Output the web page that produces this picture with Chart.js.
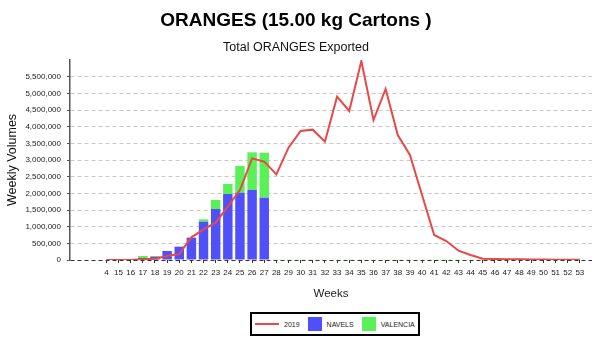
<!DOCTYPE html>
<html>
  <head>
    <meta charset="utf-8" />
    <title>Oranges exported</title>
    <script src="https://cdn.jsdelivr.net/npm/chart.js"></script>
    <style>
      body {
        margin: 0;
        background: white;
      }
      #wrap {
        position: relative;
        width: 600px;
        height: 345px;
      }
      #legend {
        position: absolute;
        left: 250px;
        top: 312px;
        width: 163px;
        height: 20px;
        border: 2px solid black;
        background: white;
        display: flex;
        align-items: center;
        font: 7px "Liberation Sans", Arial, sans-serif;
        color: #222;
        padding-left: 3px;
        box-sizing: content-box;
        white-space: nowrap;
        overflow: hidden;
      }
      #legend span.sw {
        display: inline-block;
        flex-shrink: 0;
        margin-right: 5px;
      }
      #legend span.txt {
        flex-shrink: 0;
        margin-right: 8px;
      }
    </style>

    <script type="text/javascript">
      // weeks along the x axis (blank slots pad the left and right ends)
      var weeks = ["", "", "", "4", "15", "16", "17", "18", "19", "20", "21", "22", "23",
        "24", "25", "26", "27", "28", "29", "30", "31", "32", "33", "34", "35", "36", "37",
        "38", "39", "40", "41", "42", "43", "44", "45", "46", "47", "48", "49", "50", "51",
        "52", "53", ""];

      // 2019 season, cartons per week
      var season2019 = [null, null, null, 0, 0, 0, 20000, 40000, 120000, 180000, 680000,
        920000, 1120000, 1600000, 2100000, 3050000, 2950000, 2570000, 3370000, 3870000,
        3910000, 3550000, 4900000, 4470000, 5970000, 4200000, 5130000, 3750000, 3150000,
        1950000, 750000, 570000, 280000, 150000, 40000, 30000, 25000, 20000, 15000, 15000,
        10000, 10000, 10000, null];

      // this season by variety
      var navels = [null, null, null, 0, 0, 0, 60000, 100000, 270000, 400000, 670000,
        1150000, 1530000, 1980000, 2020000, 2100000, 1870000, 0, 0, 0, 0, 0, 0, 0, 0, 0, 0,
        0, 0, 0, 0, 0, 0, 0, 0, 0, 0, 0, 0, 0, 0, 0, 0, null];
      var valencia = [null, null, null, 0, 0, 0, 60000, 20000, 0, 0, 0, 70000, 270000,
        300000, 800000, 1130000, 1350000, 20000, 20000, 20000, 20000, 20000, 20000, 20000,
        20000, 20000, 20000, 20000, 20000, 20000, 20000, 20000, 20000, 20000, 20000, 20000,
        20000, 20000, 20000, 20000, 20000, 20000, 20000, null];

      var yTop = 6000000;
      var fontFam = "'Liberation Sans', Arial, sans-serif";

      function fmt(v) {
        if (v == yTop) return "";
        return v.toLocaleString("en-US");
      }

      // html legend built from the chart's own legend items
      const htmlLegend = {
        id: "htmlLegend",
        afterUpdate(chart) {
          var box = document.getElementById("legend");
          box.innerHTML = "";
          var items = chart.options.plugins.legend.labels.generateLabels(chart);
          items.forEach(function (it) {
            var sw = document.createElement("span");
            sw.className = "sw";
            var ds = chart.data.datasets[it.datasetIndex];
            if (ds.type == "line") {
              sw.style.width = "24px";
              sw.style.height = "2px";
              sw.style.background = ds.borderColor;
            } else {
              sw.style.width = "14px";
              sw.style.height = "14px";
              sw.style.background = ds.backgroundColor;
            }
            var t = document.createElement("span");
            t.className = "txt";
            t.textContent = it.text;
            box.appendChild(sw);
            box.appendChild(t);
          });
        },
      };

      function start() {
        new Chart(document.getElementById("chart"), {
          type: "bar",
          data: {
            labels: weeks,
            datasets: [
              {
                type: "line",
                label: "2019",
                data: season2019,
                stack: "year",
                borderColor: "#e84848",
                backgroundColor: "#e84848",
                borderWidth: 2,
                pointRadius: 0,
                tension: 0,
                order: 0,
              },
              {
                label: "NAVELS",
                data: navels,
                stack: "fruit",
                backgroundColor: "#5050fa",
                barPercentage: 0.78,
                categoryPercentage: 1,
                order: 1,
              },
              {
                label: "VALENCIA",
                data: valencia,
                stack: "fruit",
                backgroundColor: "#58f258",
                barPercentage: 0.78,
                categoryPercentage: 1,
                order: 1,
              },
            ],
          },
          options: {
            responsive: false,
            animation: false,
            layout: { padding: { left: 0, right: 8, top: 0, bottom: 44 } },
            plugins: {
              legend: { display: false },
              tooltip: { enabled: false },
              title: {
                display: true,
                text: "ORANGES (15.00 kg Cartons )",
                color: "#000",
                font: { family: fontFam, size: 19, weight: "bold" },
                padding: { top: 9.6, bottom: 5 },
              },
              subtitle: {
                display: true,
                text: "Total ORANGES Exported",
                color: "#111",
                font: { family: fontFam, size: 12.5 },
                padding: { top: 3, bottom: 4.6 },
              },
            },
            scales: {
              x: {
                stacked: true,
                offset: false,
                afterFit: function (s) {
                  s.height = 41;
                },
                grid: {
                  offset: false,
                  drawOnChartArea: false,
                  drawTicks: true,
                  tickLength: 3,
                  tickColor: function (c) {
                    return weeks[c.index] ? "#333" : "rgba(0,0,0,0)";
                  },
                },
                border: { display: false },
                ticks: {
                  autoSkip: false,
                  maxRotation: 0,
                  padding: 5,
                  color: "#222",
                  font: { family: fontFam, size: 8 },
                },
                title: {
                  display: true,
                  text: "Weeks",
                  color: "#222",
                  font: { family: fontFam, size: 11.5 },
                  padding: { top: 0, bottom: 0 },
                },
              },
              y: {
                stacked: true,
                min: 0,
                max: yTop,
                afterFit: function (s) {
                  s.width = 70;
                },
                ticks: {
                  stepSize: 500000,
                  padding: 6,
                  color: "#222",
                  font: { family: fontFam, size: 8 },
                  callback: fmt,
                },
                grid: {
                  tickLength: 3,
                  tickBorderDash: [],
                  color: function (c) {
                    if (c.tick.value == 0) return "#333";
                    if (c.tick.value == yTop) return "rgba(0,0,0,0)";
                    return "#c8c8c8";
                  },
                  tickColor: function (c) {
                    return c.tick.value == yTop ? "rgba(0,0,0,0)" : "#555";
                  },
                },
                border: { display: true, color: "#555", width: 1.5, dash: [4, 3] },
                title: {
                  display: true,
                  text: "Weekly Volumes",
                  color: "#111",
                  font: { family: fontFam, size: 12.5 },
                  padding: { top: 5, bottom: 0 },
                },
              },
            },
          },
          plugins: [htmlLegend],
        });
      }
    </script>
  </head>

  <body onLoad="start()">
    <div id="wrap">
      <canvas id="chart" width="600" height="345"></canvas>
      <div id="legend"></div>
    </div>
  </body>
</html>
